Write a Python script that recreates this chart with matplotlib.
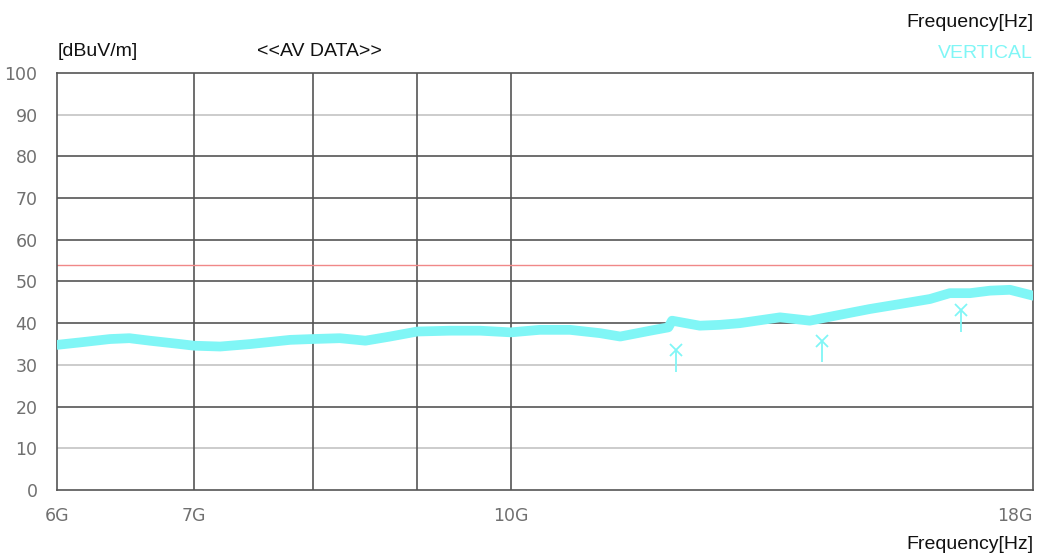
import matplotlib.pyplot as plt
from matplotlib.ticker import FixedLocator, NullLocator

# trace (frequency in GHz, level in dBuV/m)
freq_ghz = [6.00, 6.16, 6.37, 6.51, 6.66, 6.89, 7.00, 7.21, 7.46, 7.80,
            8.00, 8.25, 8.49, 8.73, 9.00, 9.34, 9.66, 10.00, 10.33, 10.69,
            11.06, 11.31, 11.70, 11.94, 11.99, 12.37, 12.65, 12.94, 13.54, 14.00,
            14.48, 14.98, 15.50, 16.03, 16.39, 16.77, 17.15, 17.54, 18.00]
level = [34.8, 35.4, 36.2, 36.4, 35.8, 35.0, 34.6, 34.4, 35.0, 36.0,
         36.2, 36.4, 35.8, 36.8, 38.0, 38.2, 38.2, 37.8, 38.4, 38.4,
         37.6, 36.8, 38.2, 39.0, 40.6, 39.4, 39.6, 40.0, 41.4, 40.6,
         42.0, 43.4, 44.6, 45.8, 47.2, 47.2, 47.8, 48.0, 46.6]

# peak markers
peak_freq = [12.04, 14.19, 16.59]
peak_level = [33.6, 35.8, 43.2]

limit = 54

xticks = [6, 7, 10, 18]
xtick_labels = ['6G', '7G', '10G', '18G']
vgrid = [7, 8, 9, 10]
yticks = list(range(0, 101, 10))
light_rows = [10, 30, 90]

cyan = '#80f6f6'

fig = plt.figure(figsize=(10.38, 5.58), dpi=100)
ax = fig.add_axes([0.0549, 0.1219, 0.9403, 0.7473])

ax.set_xscale('log')
ax.set_xlim(6, 18)
ax.set_ylim(0, 100)

# grid
for y in yticks[1:-1]:
    c = '#c4c4c4' if y in light_rows else '#555555'
    ax.axhline(y, color=c, lw=1.2, zorder=1)
for x in vgrid:
    ax.axvline(x, color='#555555', lw=1.2, zorder=1)

ax.axhline(limit, color='#f08888', lw=1.0, zorder=2)

ax.plot(freq_ghz, level, color=cyan, lw=7, solid_joinstyle='round', zorder=3)

ax.vlines(peak_freq, [v - 5.2 for v in peak_level], peak_level, color=cyan, lw=1.3, zorder=4)
ax.plot(peak_freq, peak_level, 'x', color=cyan, ms=8, mew=1.3, zorder=4)

for s in ax.spines.values():
    s.set_color('#555555')
    s.set_linewidth(1.2)

ax.xaxis.set_major_locator(FixedLocator(xticks))
ax.xaxis.set_minor_locator(NullLocator())
ax.set_xticklabels(xtick_labels)
ax.set_yticks(yticks)
ax.tick_params(length=0, labelsize=12.5, colors='#707070')
ax.tick_params(axis='y', pad=14)
ax.tick_params(axis='x', pad=12)
lbls = ax.get_xticklabels()
lbls[-1].set_horizontalalignment('right')
lbls[-1].set_x(18)

font = 'Liberation Sans'
fig.text(0.0559, 0.893, '[dBuV/m]', fontsize=14, family=font, color='#111111', va='bottom')
fig.text(0.308, 0.893, '<<AV DATA>>', fontsize=14, family=font, color='#111111', va='bottom', ha='center')
fig.text(0.9952, 0.96, 'Frequency[Hz]', fontsize=14, family=font, color='#111111', ha='right', va='center')
fig.text(0.9952, 0.904, 'VERTICAL', fontsize=14, family=font, color=cyan, ha='right', va='center')
fig.text(0.9952, 0.025, 'Frequency[Hz]', fontsize=14, family=font, color='#111111', ha='right', va='center')

fig.savefig('out.png', dpi=100)
